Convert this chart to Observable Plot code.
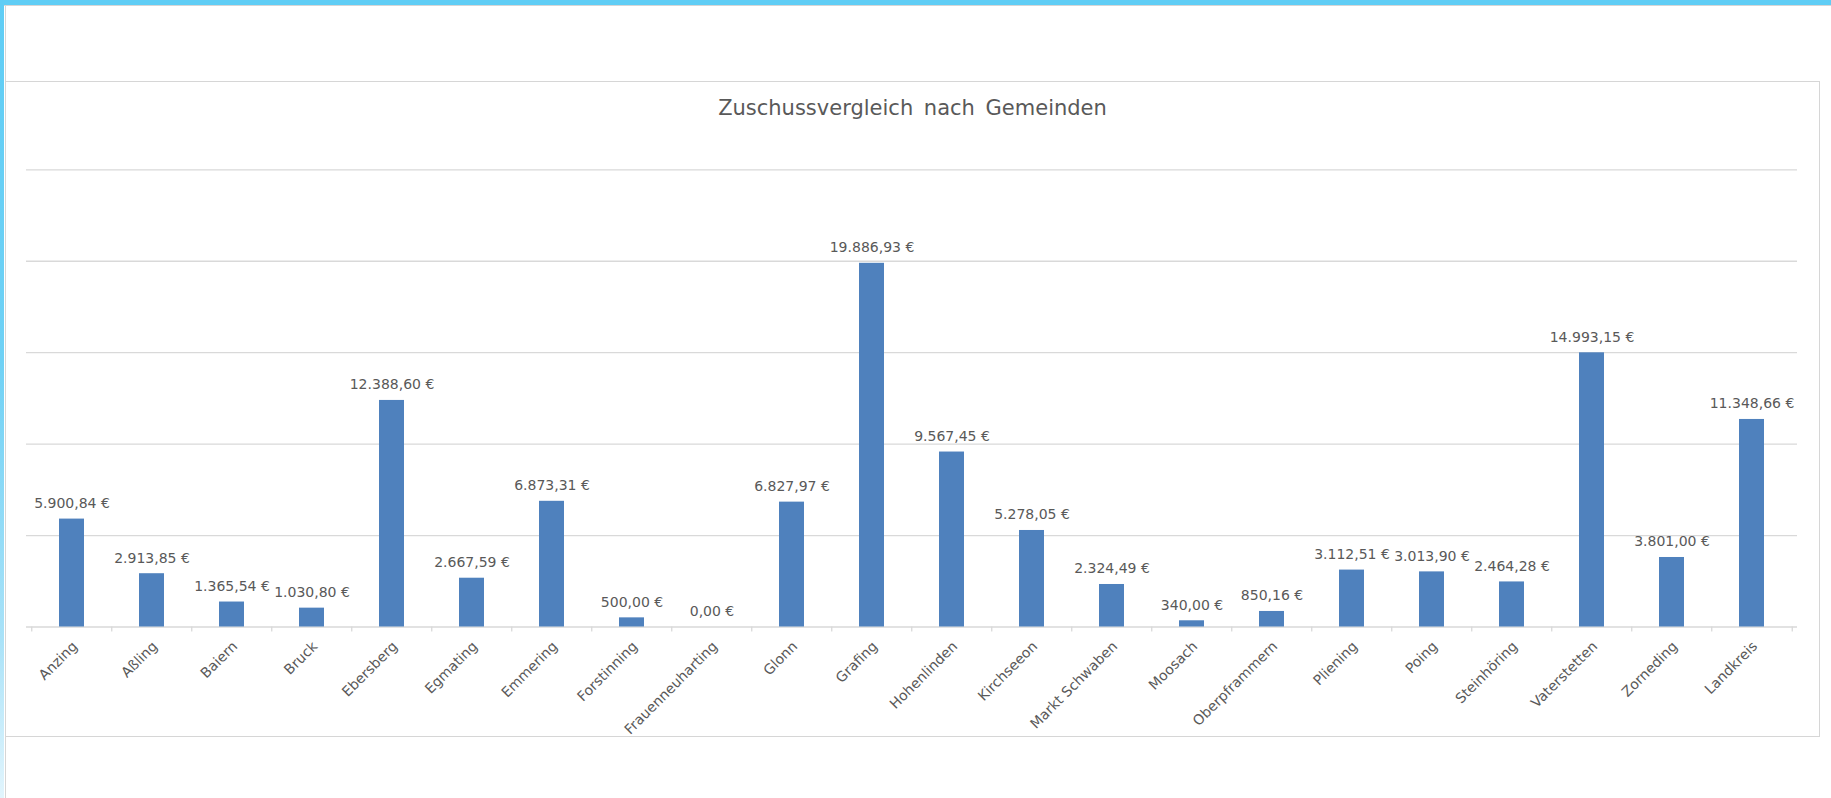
<!DOCTYPE html>
<html>
<head>
<meta charset="utf-8">
<script src="https://cdn.jsdelivr.net/npm/d3@7"></script>
<script src="https://cdn.jsdelivr.net/npm/@observablehq/plot@0.6"></script>
<style>
  html, body { margin: 0; padding: 0; background: #fff; }
  body { width: 1831px; height: 798px; position: relative; overflow: hidden; font-family: "DejaVu Sans", sans-serif; }
  #topbar { position: absolute; left: 0; top: 0; width: 1831px; height: 5px; background: #5fcdf5; border-bottom: 1px solid #d6d6d6; }
  #leftbar { position: absolute; left: 0; top: 0; width: 4px; height: 798px;
    background: linear-gradient(to bottom, #5fcdf5 0%, #6fd1f5 45%, #a9e2f8 80%, #e2f5fd 100%); }
  #sheetline { position: absolute; left: 5px; top: 6px; width: 1px; height: 792px; background: #d6d6d6; }
  #box { position: absolute; left: 5px; top: 81px; width: 1813px; height: 654px; border: 1px solid #d6d6d6; background: #fff; }
  #title { position: absolute; left: 0; top: 16px; width: 100%; text-align: center; font-family: "DejaVu Sans", sans-serif;
    font-size: 21px; line-height: 21px; color: #595959; word-spacing: 4px; white-space: nowrap; }
  #chart { position: absolute; left: 0; top: 0; }
</style>
</head>
<body>
<div id="topbar"></div>
<div id="leftbar"></div>
<div id="sheetline"></div>
<div id="box">
  <div id="title">Zuschussvergleich nach Gemeinden</div>
  <div id="chart"></div>
</div>
<script>
const gemeinden = ["Anzing","Aßling","Baiern","Bruck","Ebersberg","Egmating","Emmering","Forstinning","Frauenneuharting","Glonn","Grafing","Hohenlinden","Kirchseeon","Markt Schwaben","Moosach","Oberpframmern","Pliening","Poing","Steinhöring","Vaterstetten","Zorneding","Landkreis"];
const zuschuss = [5900.84, 2913.85, 1365.54, 1030.80, 12388.60, 2667.59, 6873.31, 500.00, 0.00, 6827.97, 19886.93, 9567.45, 5278.05, 2324.49, 340.00, 850.16, 3112.51, 3013.90, 2464.28, 14993.15, 3801.00, 11348.66];
const gridValues = [0, 5000, 10000, 15000, 20000, 25000];

const data = gemeinden.map((name, i) => ({name, value: zuschuss[i]}));
const lastName = gemeinden[gemeinden.length - 1];

const de = d3.formatLocale({decimal: ",", thousands: ".", grouping: [3], currency: ["", " €"]});
const fmt = de.format("$,.2f");

const W = 1813, H = 654;
const mL = 20, mR = 22, mT = 87.3, mB = 109.5;
const step = (W - mL - mR) / gemeinden.length;
const textColor = "#595959";
const gridColor = "#d9d9d9";

const chart = Plot.plot({
  width: W,
  height: H,
  marginLeft: mL,
  marginRight: mR,
  marginTop: mT,
  marginBottom: mB,
  style: {fontFamily: "DejaVu Sans, sans-serif", fontSize: "14px", color: textColor, background: "transparent", overflow: "visible"},
  x: {type: "band", domain: gemeinden, paddingInner: 0.69, paddingOuter: 0.345, axis: null},
  y: {domain: [0, 25000], axis: null},
  marks: [
    Plot.ruleY(gridValues, {y: d => d, stroke: gridColor, strokeWidth: 1.3}),
    Plot.ruleX(gemeinden, {x: d => d, y1: 0, y2: 0, dx: -step / 2, insetBottom: -5, stroke: gridColor, strokeWidth: 1.3}),
    Plot.ruleX([lastName], {x: d => d, y1: 0, y2: 0, dx: step / 2, insetBottom: -5, stroke: gridColor, strokeWidth: 1.3}),
    Plot.barY(data, {x: "name", y: "value", fill: "#4f81bd"}),
    Plot.text(data, {x: "name", y: "value", text: d => fmt(d.value), lineAnchor: "bottom", dy: -11, fill: textColor, fontSize: 14}),
    Plot.text(data, {x: "name", y: 0, text: "name", rotate: -45, textAnchor: "end", lineAnchor: "middle", dx: 3, dy: 17, fill: textColor, fontSize: 14})
  ]
});
document.getElementById("chart").appendChild(chart);
</script>
</body>
</html>
